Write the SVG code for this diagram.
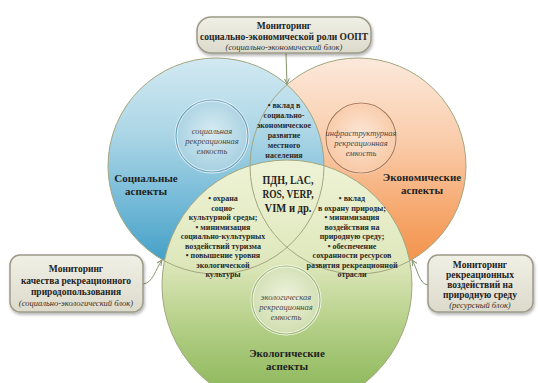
<svg xmlns="http://www.w3.org/2000/svg" width="538" height="383" viewBox="0 0 538 383">
<defs>
  <linearGradient id="gBlue" x1="0" y1="0" x2="0" y2="1">
    <stop offset="0" stop-color="#d2e9f2"/>
    <stop offset="0.35" stop-color="#acd6e6"/>
    <stop offset="0.7" stop-color="#6fb7d6"/>
    <stop offset="1" stop-color="#3a9ac3"/>
  </linearGradient>
  <linearGradient id="gOrange" x1="0" y1="0" x2="0" y2="1">
    <stop offset="0" stop-color="#fce9dc"/>
    <stop offset="0.4" stop-color="#f9cba8"/>
    <stop offset="0.7" stop-color="#f6a970"/>
    <stop offset="1" stop-color="#f28e44"/>
  </linearGradient>
  <linearGradient id="gGreen" x1="0" y1="0" x2="0" y2="1">
    <stop offset="0" stop-color="#eff3d6"/>
    <stop offset="0.4" stop-color="#dfe8bd"/>
    <stop offset="0.65" stop-color="#b6d089"/>
    <stop offset="1" stop-color="#83b24f"/>
  </linearGradient>
  <radialGradient id="bSoc" cx="0.5" cy="0.45" r="0.55">
    <stop offset="0" stop-color="#d7ebf3"/>
    <stop offset="1" stop-color="#a6d0e1"/>
  </radialGradient>
  <radialGradient id="bInf" cx="0.5" cy="0.45" r="0.55">
    <stop offset="0" stop-color="#fde6d5"/>
    <stop offset="1" stop-color="#f8c8a4"/>
  </radialGradient>
  <radialGradient id="bEco" cx="0.5" cy="0.45" r="0.55">
    <stop offset="0" stop-color="#edf2dc"/>
    <stop offset="1" stop-color="#d0deb0"/>
  </radialGradient>
  <linearGradient id="gBox" x1="0" y1="0" x2="0" y2="1">
    <stop offset="0" stop-color="#f1f0e6"/>
    <stop offset="1" stop-color="#dcdacb"/>
  </linearGradient>
  <filter id="sh" x="-10%" y="-15%" width="125%" height="145%">
    <feDropShadow dx="1" dy="2" stdDeviation="1.5" flood-color="#000" flood-opacity="0.3"/>
  </filter>
  <marker id="ah" viewBox="0 0 6 6" refX="5.5" refY="3" markerWidth="6" markerHeight="6" orient="auto" markerUnits="userSpaceOnUse">
    <path d="M0,0.5 L5.5,3 L0,5.5" fill="none" stroke="#86946c" stroke-width="1"/>
  </marker>
  <style>
    .h{font-family:"Liberation Serif",serif;font-weight:bold;font-size:11px;fill:#1f1f1f;text-anchor:middle}
    .c{font-family:"Liberation Serif",serif;font-weight:bold;font-size:12.5px;fill:#1f1f1f;text-anchor:middle}
    .b{font-family:"Liberation Serif",serif;font-weight:bold;font-size:8px;fill:#2a2a2a;text-anchor:middle}
    .i{font-family:"Liberation Serif",serif;font-style:italic;font-size:8.5px;fill:#4a4a4a;text-anchor:middle}
    .m{font-family:"Liberation Serif",serif;font-weight:bold;font-size:9.5px;fill:#222;text-anchor:middle}
    .mi{font-family:"Liberation Serif",serif;font-style:italic;font-size:8.5px;fill:#333;text-anchor:middle}
    .box{fill:url(#gBox);stroke:#9c9b88;stroke-width:1.5}
    .edge{fill:none;stroke:#a2a67f;stroke-width:1}
    .conn{fill:none;stroke:#86946c;stroke-width:1}
  </style>
</defs>

<rect width="538" height="383" fill="#ffffff"/>

<g id="circle-economic">
  <circle cx="358" cy="166" r="108" fill="url(#gOrange)"/>
</g>
<g id="circle-social">
  <circle cx="216" cy="166" r="108" fill="url(#gBlue)"/>
</g>
<g id="circle-ecological">
  <circle cx="287" cy="285" r="125" fill="url(#gGreen)"/>
</g>
<g id="circle-outlines">
  <circle class="edge" cx="358" cy="166" r="108"/>
  <circle class="edge" cx="216" cy="166" r="108"/>
  <circle class="edge" cx="287" cy="285" r="125"/>
</g>

<g id="bubble-social">
  <circle cx="212" cy="136" r="36" fill="url(#bSoc)" stroke="#e4f1f6" stroke-width="3"/>
  <circle cx="212" cy="136" r="36" fill="none" stroke="#6fa6bf" stroke-width="1.2"/>
  <text class="i" x="212" y="134">социальная</text>
  <text class="i" x="212" y="144">рекреационная</text>
  <text class="i" x="212" y="154">емкость</text>
</g>
<g id="bubble-infra">
  <circle cx="361" cy="138" r="35" fill="url(#bInf)" stroke="#fbe7d8" stroke-width="2"/>
  <circle cx="361" cy="138" r="35" fill="none" stroke="#b07c58" stroke-width="1.2"/>
  <text class="i" x="361" y="136">инфраструктурная</text>
  <text class="i" x="361" y="146">рекреационная</text>
  <text class="i" x="361" y="156">емкость</text>
</g>
<g id="bubble-eco">
  <circle cx="286" cy="300" r="34" fill="url(#bEco)" stroke="#f3f6e6" stroke-width="3"/>
  <circle cx="286" cy="300" r="34" fill="none" stroke="#a0b97c" stroke-width="1.2"/>
  <text class="i" x="286" y="300">экологическая</text>
  <text class="i" x="286" y="310">рекреационная</text>
  <text class="i" x="286" y="320">емкость</text>
</g>

<g id="label-social">
  <text class="h" x="146" y="182">Социальные</text>
  <text class="h" x="146" y="195">аспекты</text>
</g>
<g id="label-economic">
  <text class="h" x="422" y="181">Экономические</text>
  <text class="h" x="422" y="194">аспекты</text>
</g>
<g id="label-ecological">
  <text class="h" x="287" y="357">Экологические</text>
  <text class="h" x="287" y="370">аспекты</text>
</g>

<g id="center">
  <text class="c" x="288" y="184" textLength="51" lengthAdjust="spacingAndGlyphs">ПДН, LAC,</text>
  <text class="c" x="288" y="198" textLength="51" lengthAdjust="spacingAndGlyphs">ROS, VERP,</text>
  <text class="c" x="288" y="212" textLength="47" lengthAdjust="spacingAndGlyphs">VIM и др.</text>
</g>

<g id="lens-social-economic">
  <text class="b" x="284" y="108">• вклад в</text>
  <text class="b" x="284" y="118">социально-</text>
  <text class="b" x="284" y="128">экономическое</text>
  <text class="b" x="284" y="138">развитие</text>
  <text class="b" x="284" y="148">местного</text>
  <text class="b" x="284" y="158">населения</text>
</g>

<g id="lens-social-ecological">
  <text class="b" x="223" y="201">• охрана</text>
  <text class="b" x="223" y="210.5">социо-</text>
  <text class="b" x="223" y="220">культурной среды;</text>
  <text class="b" x="223" y="229.5">• минимизация</text>
  <text class="b" x="223" y="239">социально-культурных</text>
  <text class="b" x="223" y="248.5">воздействий туризма</text>
  <text class="b" x="223" y="258">• повышение уровня</text>
  <text class="b" x="223" y="267.5">экологической</text>
  <text class="b" x="223" y="277">культуры</text>
</g>

<g id="lens-economic-ecological">
  <text class="b" x="352" y="201">• вклад</text>
  <text class="b" x="352" y="210.5">в охрану природы;</text>
  <text class="b" x="352" y="220">• минимизация</text>
  <text class="b" x="352" y="229.5">воздействия на</text>
  <text class="b" x="352" y="239">природную среду;</text>
  <text class="b" x="352" y="248.5">• обеспечение</text>
  <text class="b" x="352" y="258">сохранности ресурсов</text>
  <text class="b" x="352" y="267.5">развития рекреационной</text>
  <text class="b" x="352" y="277">отрасли</text>
</g>

<g id="connectors">
  <path class="conn" d="M286,53 L287,84" marker-end="url(#ah)"/>
  <path class="conn" d="M143,284 C153,283 155,270 162,260" marker-end="url(#ah)"/>
  <path class="conn" d="M428,285 C419,284 418,270 412,260" marker-end="url(#ah)"/>
</g>

<g id="box-top">
  <rect class="box" x="197" y="17" width="174" height="36" rx="14" filter="url(#sh)"/>
  <text class="m" x="284" y="29">Мониторинг</text>
  <text class="m" x="284" y="40">социально-экономической роли ООПТ</text>
  <text class="mi" x="284" y="50">(социально-экономический блок)</text>
</g>

<g id="box-left">
  <rect class="box" x="10" y="255" width="133" height="57" rx="10" filter="url(#sh)"/>
  <text class="m" x="76" y="272">Мониторинг</text>
  <text class="m" x="76" y="283.5">качества рекреационного</text>
  <text class="m" x="76" y="295">природопользования</text>
  <text class="mi" x="76" y="305.5">(социально-экологический блок)</text>
</g>

<g id="box-right">
  <rect class="box" x="428" y="255" width="105" height="57" rx="10" filter="url(#sh)"/>
  <text class="m" x="480" y="268">Мониторинг</text>
  <text class="m" x="480" y="278">рекреационных</text>
  <text class="m" x="480" y="288">воздействий на</text>
  <text class="m" x="480" y="298">природную среду</text>
  <text class="mi" x="480" y="307.5">(ресурсный блок)</text>
</g>
</svg>
